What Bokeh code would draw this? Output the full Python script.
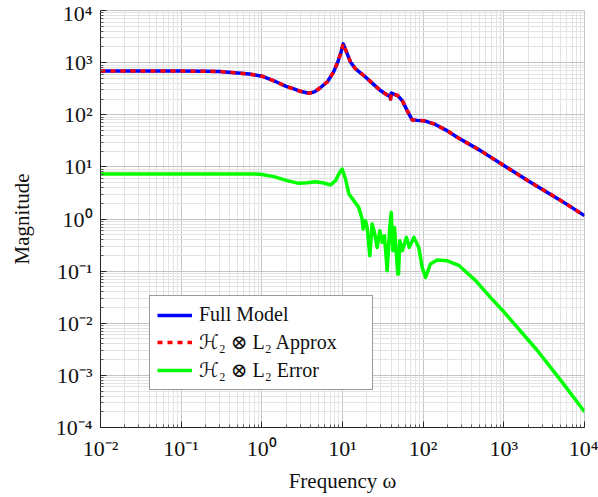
from bokeh.plotting import figure
from bokeh.models import FixedTicker, Legend, LegendItem
from bokeh.embed import file_html
from bokeh.resources import INLINE

# ---- data ----
freq_full = [0.01, 0.03, 0.1, 0.2, 0.3, 0.5, 0.7, 1.0, 1.5, 2.0, 2.5, 3.0, 3.8, 4.5, 5.3,
             6.5, 7.7, 8.8, 9.6, 10.2, 11.0, 12.6, 14.5, 18.4, 23.5, 29.6, 35.0, 38.5, 39.4,
             40.2, 41.7, 48.5, 55.0, 63.4, 73.0, 85.0, 102, 136, 200, 264, 513, 1000, 2140,
             5000, 10000]
mag_full = [690, 690, 688, 684, 674, 635, 605, 550, 430, 350, 313, 282, 258, 275, 330,
            430, 650, 1050, 1600, 2290, 1720, 1017, 758, 565, 400, 291, 245, 226, 200,
            262, 255, 233, 187, 120, 80, 78, 77, 67, 49, 37, 20.5, 10.6, 5.06,
            2.3, 1.16]

freq_approx = list(freq_full)
mag_approx = [690, 690, 688, 684, 674, 635, 605, 550, 430, 350, 313, 282, 258, 275, 330,
              430, 650, 1050, 1600, 2290, 1720, 1017, 758, 565, 400, 291, 245, 226, 200,
              262, 255, 233, 187, 120, 80, 78, 77, 67, 49, 37, 20.5, 10.6, 5.06,
              2.3, 1.16]

freq_err = [0.01, 0.1, 0.5, 0.96, 1.41, 2.06, 2.87, 3.65, 4.62, 5.87, 7.1, 8.2, 9.0, 9.9,
            10.9, 12.0, 13.8, 15.9, 17.5, 18.0, 19.3, 20.2, 21.8, 23.3, 24.9, 26.9, 29.0,
            31.0, 33.1, 35.8, 38.3, 40.2, 42.0, 44.1, 48.5, 49.5, 51.3, 55.0, 62.1, 67.1,
            76.6, 88.3, 97.3, 107, 123, 149, 200, 280, 450, 700, 1000, 2600, 5000, 10000]
mag_err = [7.3, 7.3, 7.3, 7.25, 6.5, 5.45, 4.83, 4.98, 5.2, 4.9, 4.5, 5.45, 7.3, 9.1,
           5.86, 3.02, 2.25, 1.67, 1.0, 0.643, 0.929, 0.69, 0.198, 0.80, 0.553, 0.285, 0.597,
           0.356, 0.478, 0.102, 0.597, 1.34, 0.247, 0.69, 0.088, 0.088, 0.384, 0.247, 0.444, 0.285,
           0.444, 0.285, 0.118, 0.0757, 0.137, 0.163, 0.158, 0.127, 0.065, 0.030, 0.0166, 0.0030,
           0.00083, 0.0002]

x_ticks = [1e-2, 1e-1, 1e0, 1e1, 1e2, 1e3, 1e4]
x_tick_labels = ["10\u207b\u00b2", "10\u207b\u00b9", "10\u2070", "10\u00b9", "10\u00b2", "10\u00b3", "10\u2074"]
y_ticks = [1e-4, 1e-3, 1e-2, 1e-1, 1e0, 1e1, 1e2, 1e3, 1e4]
y_tick_labels = ["10\u207b\u2074", "10\u207b\u00b3", "10\u207b\u00b2", "10\u207b\u00b9", "10\u2070",
                 "10\u00b9", "10\u00b2", "10\u00b3", "10\u2074"]
minor_mult = [2, 3, 4, 5, 6, 7, 8, 9]

labels = ["Full Model", "\u210b\u2082 \u2297 L\u2082 Approx", "\u210b\u2082 \u2297 L\u2082 Error"]

FONT = "Liberation Serif"
LEGEND_FONT = "'Liberation Serif', 'DejaVu Serif', 'DejaVu Sans'"

p = figure(width=598, height=497, x_axis_type="log", y_axis_type="log",
           x_range=(1e-2, 1e4), y_range=(1e-4, 1e4),
           output_backend="svg", toolbar_location=None,
           min_border_left=100, min_border_right=14, min_border_top=10, min_border_bottom=70)
p.background_fill_color = "white"
p.border_fill_color = "white"
p.outline_line_color = "#c4c4c4"

x_minor = [m * t for t in x_ticks[:-1] for m in minor_mult]
y_minor = [m * t for t in y_ticks[:-1] for m in minor_mult]
p.xaxis.ticker = FixedTicker(ticks=x_ticks, minor_ticks=x_minor)
p.yaxis.ticker = FixedTicker(ticks=y_ticks, minor_ticks=y_minor)
p.xaxis.major_label_overrides = dict(zip(x_ticks, x_tick_labels))
p.yaxis.major_label_overrides = dict(zip(y_ticks, y_tick_labels))

for ax in (p.xaxis, p.yaxis):
    ax.axis_line_color = "#262626"
    ax.axis_line_width = 1
    ax.major_tick_line_color = "#262626"
    ax.major_tick_in = 6
    ax.major_tick_out = 0
    ax.minor_tick_line_color = "#5a5a5a"
    ax.minor_tick_in = 3
    ax.minor_tick_out = 0
    ax.major_label_text_font = FONT
    ax.major_label_text_font_size = "22px"
    ax.major_label_text_color = "#111111"
    ax.axis_label_text_font = FONT
    ax.axis_label_text_font_size = "21px"
    ax.axis_label_text_font_style = "normal"
    ax.axis_label_text_color = "#111111"

p.xaxis.axis_label = "Frequency \u03c9"
p.yaxis.axis_label = "Magnitude"
p.xaxis.major_label_standoff = 8
p.yaxis.major_label_standoff = 8
p.xaxis.axis_label_standoff = 5
p.yaxis.axis_label_standoff = 19

for g in (p.xgrid, p.ygrid):
    g.grid_line_color = "#c4c4c4"
    g.grid_line_width = 1
    g.minor_grid_line_color = "#e3e3e3"
    g.minor_grid_line_width = 1

r_full = p.line(freq_full, mag_full, line_color="#0000ff", line_width=3.5, line_join="round")
r_apx = p.line(freq_approx, mag_approx, line_color="#ff0000", line_width=3.5,
               line_dash="5 5", line_join="round")
r_err = p.line(freq_err, mag_err, line_color="#00ff00", line_width=3.5, line_join="round")

legend = Legend(items=[LegendItem(label=labels[0], renderers=[r_full]),
                       LegendItem(label=labels[1], renderers=[r_apx]),
                       LegendItem(label=labels[2], renderers=[r_err])],
                location=(49, 37))
legend.border_line_color = "#333333"
legend.border_line_width = 1
legend.background_fill_color = "white"
legend.background_fill_alpha = 1.0
legend.label_text_font = LEGEND_FONT
legend.label_text_font_size = "20px"
legend.label_text_color = "#111111"
legend.label_text_line_height = 1.0
legend.glyph_width = 35
legend.glyph_height = 20
legend.label_height = 20
legend.label_width = 166
legend.spacing = 4
legend.padding = 7
legend.label_standoff = 7
legend.margin = 0
p.add_layout(legend)

open("out.html", "w").write(file_html(p, INLINE))
